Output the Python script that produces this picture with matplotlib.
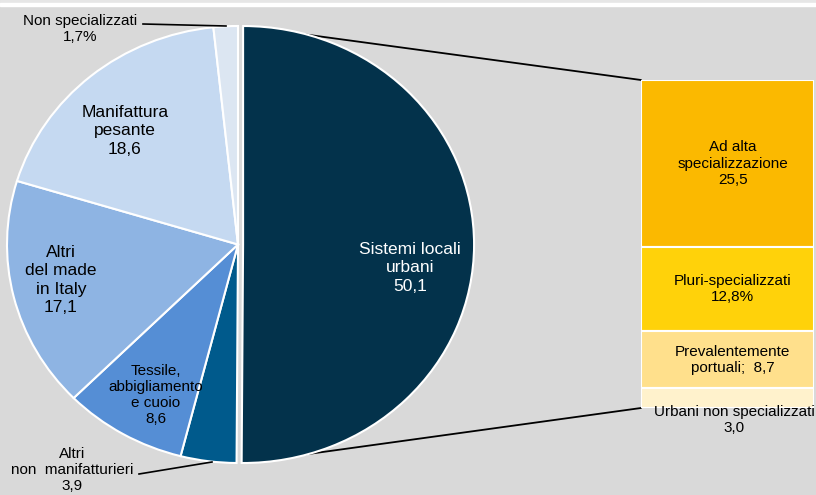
import matplotlib.pyplot as plt
from matplotlib.patches import ConnectionPatch, Rectangle

plt.rcParams['font.family'] = ['Liberation Sans', 'DejaVu Sans']

# main pie (clockwise from 12 o'clock)
pie_names = ['Sistemi locali\nurbani', 'Altri\nnon  manifatturieri', 'Tessile,\nabbigliamento\ne cuoio',
             'Altri\ndel made\nin Italy', 'Manifattura\npesante', 'Non specializzati']
pie_values = [50.1, 3.9, 8.6, 17.1, 18.6, 1.7]
pie_pct = [False, False, False, False, False, True]
pie_colors = ['#03324b', '#005a8c', '#558ed5', '#8eb4e3', '#c5d9f1', '#dce6f2']

# split of the urban systems, top to bottom
bar_names = ['Ad alta\nspecializzazione', 'Pluri-specializzati', 'Prevalentemente\nportuali; ', 'Urbani non specializzati']
bar_values = [25.5, 12.8, 8.7, 3.0]
bar_pct = [False, True, False, False]
bar_colors = ['#fbb900', '#ffd20a', '#ffe08c', '#fff2cc']


def fmt(v, pct=False):
    s = f'{v:.1f}'.replace('.', ',')
    return s + '%' if pct else s


W, H = 816, 495
fig = plt.figure(figsize=(W / 100, H / 100), dpi=100, facecolor='#d9d9d9')

# top border strip
fig.add_artist(Rectangle((0, 1 - 3 / H), 1, 3 / H, transform=fig.transFigure, color='#e6e6e6', zorder=-2))
fig.add_artist(Rectangle((0, 1 - 6 / H), 1, 3 / H, transform=fig.transFigure, color='white', zorder=-2))

# pie in an axes stretched to the pixel ellipse of the original
cx, cy, rx, ry = 238, 244.5, 231, 218.5
ax = fig.add_axes([0, 0, 1, 1])
explode = [0.022, 0, 0, 0, 0, 0]
ax.pie(pie_values, colors=pie_colors, startangle=90, counterclock=False, explode=explode,
       wedgeprops=dict(edgecolor='white', linewidth=1.5))
ax.set_aspect('auto')
ax.set_xlim(-cx / rx, (W - cx) / rx)
ax.set_ylim(-(H - cy) / ry, cy / ry)
ax.set_facecolor('none')
ax.axis('off')


def pu(px, py):
    return (px - cx) / rx, (cy - py) / ry


# label positions in pixels (centre of text block)
pie_pos = [(410, 268), (72, 470), (156, 395), (61, 280), (125, 131), (80, 29)]
pie_size = [12.5, 11, 11, 12.5, 12.5, 11]
pie_ls = [1.3, 1.2, 1.2, 1.3, 1.3, 1.2]
for i, (name, v) in enumerate(zip(pie_names, pie_values)):
    col = 'white' if i == 0 else 'black'
    ax.text(*pu(*pie_pos[i]), name + '\n' + fmt(v, pie_pct[i]), ha='center', va='center',
            fontsize=pie_size[i], color=col, linespacing=pie_ls[i])

# leader lines for outside labels
for (x0, y0), (x1, y1) in [((143, 24), (226, 26)), ((139, 474), (212, 462))]:
    p0, p1 = pu(x0, y0), pu(x1, y1)
    ax.plot([p0[0], p1[0]], [p0[1], p1[1]], color='black', lw=1.2)

# stacked bar
axb = fig.add_axes([641 / W, 1 - 408 / H, 173 / W, 328 / H])
bottoms = [sum(bar_values[i + 1:]) for i in range(len(bar_values))]
axb.bar(0, bar_values, bottom=bottoms, width=1, color=bar_colors, edgecolor='white', linewidth=1.5)
axb.set_xlim(-0.5, 0.5)
axb.set_ylim(0, sum(bar_values))
axb.set_facecolor('none')
axb.axis('off')

for i, (name, v) in enumerate(zip(bar_names, bar_values)):
    sep = ' ' if name.endswith(' ') else '\n'
    txt = name.rstrip() + (' ' + sep if sep == ' ' else sep) + fmt(v, bar_pct[i])
    if i == len(bar_values) - 1:
        axb.text(0.04, 0.5, txt, ha='center', va='top', fontsize=11, linespacing=1.2, clip_on=False)
    else:
        axb.text(0.03, bottoms[i] + v / 2, txt, ha='center', va='center', fontsize=11, linespacing=1.2)

# connectors between the urban slice and the bar
for ya, yb in [(1, sum(bar_values)), (-1, 0)]:
    con = ConnectionPatch(xyA=(explode[0], ya), coordsA=ax.transData, xyB=(-0.5, yb), coordsB=axb.transData,
                          color='black', lw=1.3, zorder=-1)
    fig.add_artist(con)

fig.savefig('out.png', dpi=100, facecolor=fig.get_facecolor())
